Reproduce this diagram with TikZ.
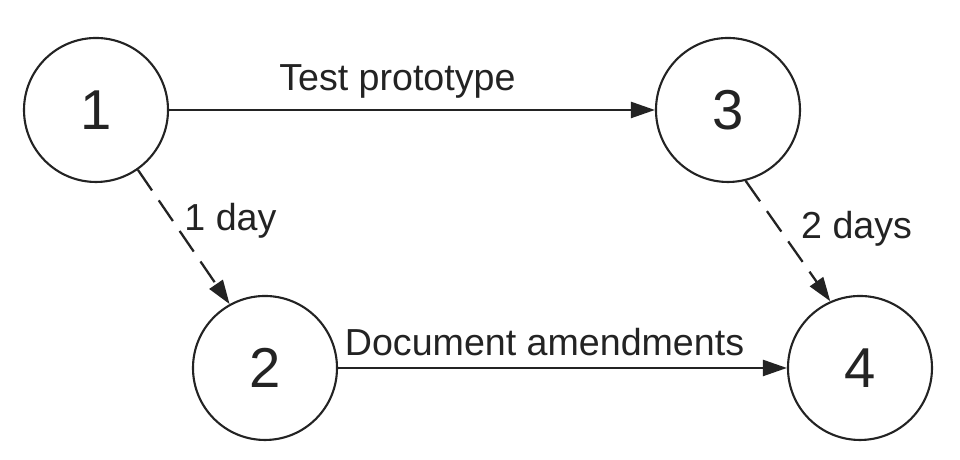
\documentclass[tikz,border=0pt]{standalone}
\usepackage{fontspec}
\setmainfont{Liberation Sans}
\usetikzlibrary{arrows.meta}
\definecolor{inkgray}{RGB}{35,35,35}

\begin{document}
\begin{tikzpicture}[
  event/.style={circle, draw=inkgray, line width=0.6pt, minimum size=1.44cm,
                inner sep=0pt, text=inkgray, font=\fontsize{16}{19}\selectfont},
  task/.style={draw=inkgray, line width=0.65pt, -{Triangle[length=0.24cm, width=0.16cm]}},
  lag/.style={task, dash pattern=on 0.25cm off 0.12cm},
  lbl/.style={font=\fontsize{10.7}{12}\selectfont, text=inkgray, inner sep=3pt}
]
  \useasboundingbox (0,0) rectangle (9.6,4.6);

  % 事件节点
  \node[event] (n1) at (0.96,3.50) {1};
  \node[event] (n3) at (7.28,3.50) {3};
  \node[event] (n2) at (2.65,0.92) {2};
  \node[event] (n4) at (8.60,0.92) {4};

  % 活动（实线）
  \draw[task] (n1) -- (n3)
    node[lbl, above, pos=0.47] {Test prototype};
  \draw[task] (n2) -- (n4)
    node[lbl, above, pos=0.46] {Document amendments};

  % 等待时间（虚线）
  \draw[lag] (n1.305) -- (n2.119)
    node[lbl, right, pos=0.38] {1 day};
  \draw[lag] (n3.284) -- (n4.114)
    node[lbl, right, pos=0.4, xshift=0.1cm] {2 days};
\end{tikzpicture}
\end{document}
